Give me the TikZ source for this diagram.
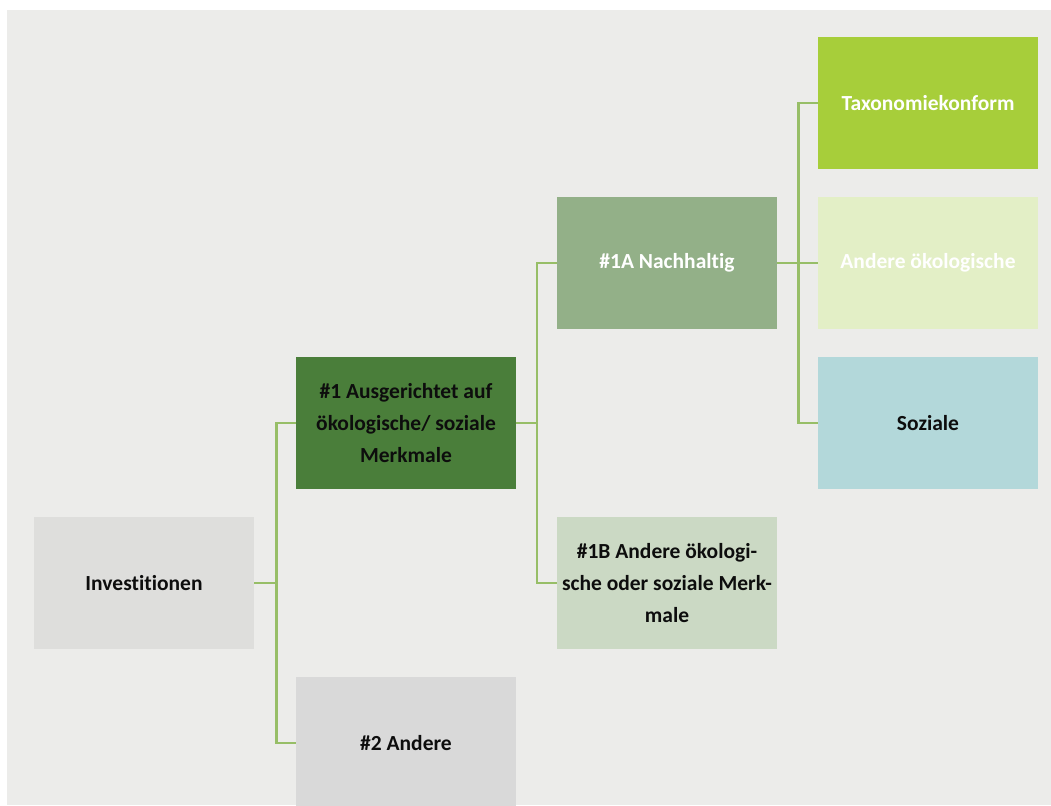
\documentclass[tikz,border=0pt]{standalone}
\usepackage{fontspec}
\setmainfont{Carlito}[Ligatures=CommonOff]
\definecolor{bgc}{HTML}{ECECEA}
\definecolor{linec}{HTML}{97BE67}
\definecolor{cinv}{HTML}{DEDEDC}
\definecolor{cone}{HTML}{4A7E3A}
\definecolor{ctwo}{HTML}{D9D9D9}
\definecolor{conea}{HTML}{93B088}
\definecolor{coneb}{HTML}{CBD9C4}
\definecolor{ctax}{HTML}{A7CE3A}
\definecolor{cand}{HTML}{E3EFC6}
\definecolor{csoz}{HTML}{B3D8DA}
\definecolor{txt}{HTML}{0D0D0D}
\begin{document}
\begin{tikzpicture}[x=1pt,y=-1pt,
  box/.style={rectangle, inner sep=0pt, minimum width=220pt, minimum height=132pt,
    align=center, font=\fontsize{21.5}{32}\selectfont\bfseries, text=txt},
  conn/.style={draw=linec, line width=2.8pt}]
\useasboundingbox (0,0) rectangle (1051,805);
\clip (0,0) rectangle (1051,805);
\fill[white] (0,0) rectangle (1051,805);
\fill[bgc] (7,10) rectangle (1051,805);
\coordinate (j1) at (276.5,0);
\coordinate (j2) at (537,0);
\coordinate (j3) at (798.5,0);
\node[box, fill=cinv] (inv) at (144,583) {Investitionen};
\node[box, fill=cone] (n1) at (406,423) {\#1 Ausgerichtet auf\\ökologische/ soziale\\Merkmale};
\node[box, fill=ctwo] (n2) at (406,743) {\#2 Andere};
\node[box, fill=conea, text=white] (n1a) at (667,263) {\#1A Nachhaltig};
\node[box, fill=coneb] (n1b) at (667,583) {\#1B Andere ökologi-\\sche oder soziale Merk-\\male};
\node[box, fill=ctax, text=white] (tax) at (928,103) {Taxonomiekonform};
\node[box, fill=cand, text=white] (and) at (928,263) {Andere ökologische};
\node[box, fill=csoz] (soz) at (928,423) {Soziale};
\draw[conn] (inv.east) -- (inv.east -| j1);
\draw[conn] (n1.west) -| (j1 |- n2.west) -- (n2.west);
\draw[conn] (n1.east) -- (n1.east -| j2);
\draw[conn] (n1a.west) -| (j2 |- n1b.west) -- (n1b.west);
\draw[conn] (n1a.east) -- (n1a.east -| j3);
\draw[conn] (tax.west) -| (j3 |- soz.west) -- (soz.west);
\draw[conn] (and.west) -- (and.west -| j3);
\end{tikzpicture}
\end{document}
